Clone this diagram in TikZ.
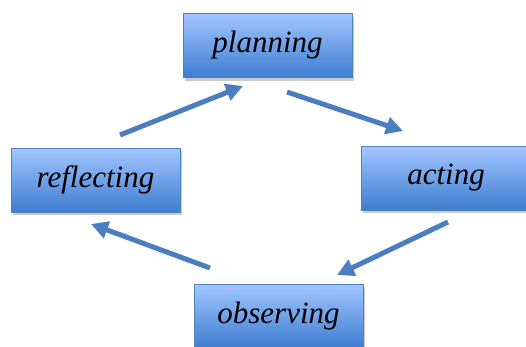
\documentclass[tikz,border=0pt]{standalone}
\usepackage{fontspec}
\setmainfont{Liberation Serif}
\usetikzlibrary{shadows,arrows.meta}
\definecolor{boxtop}{HTML}{A2C6FF}
\definecolor{boxbot}{HTML}{3E7DD0}
\definecolor{boxline}{HTML}{4F81BD}
\definecolor{arrowc}{HTML}{4A7EC0}
\tikzset{
  stagebox/.style={draw=boxline, line width=1pt, top color=boxtop, bottom color=boxbot,
    minimum width=169pt, minimum height=64pt, inner sep=0pt,
    font=\fontsize{31}{31}\selectfont\itshape,
    drop shadow={shadow xshift=1.5pt, shadow yshift=-3pt, opacity=0.35, fill=black!60}},
  cyc/.style={draw=arrowc, line width=5pt, -{Triangle[length=17pt,width=17pt]}}
}
\begin{document}
\begin{tikzpicture}[x=1pt,y=-1pt]
\useasboundingbox (0,0) rectangle (526,346);
\node[stagebox] (plan) at (267.5,45.5) {planning};
\node[stagebox] (refl) at (95.5,180) {reflecting};
\node[stagebox] (act) at (446,178) {acting};
\node[stagebox] (obs) at (278.5,316) {observing};
\coordinate (a1s) at (120,135);
\coordinate (a1e) at (243,86);
\coordinate (a2s) at (287,92);
\coordinate (a2e) at (403,131);
\coordinate (a3s) at (448,222);
\coordinate (a3e) at (337,275);
\coordinate (a4s) at (210,268);
\coordinate (a4e) at (91,224);
\draw[cyc] (a1s) -- (a1e);
\draw[cyc] (a2s) -- (a2e);
\draw[cyc] (a3s) -- (a3e);
\draw[cyc] (a4s) -- (a4e);
\end{tikzpicture}
\end{document}
